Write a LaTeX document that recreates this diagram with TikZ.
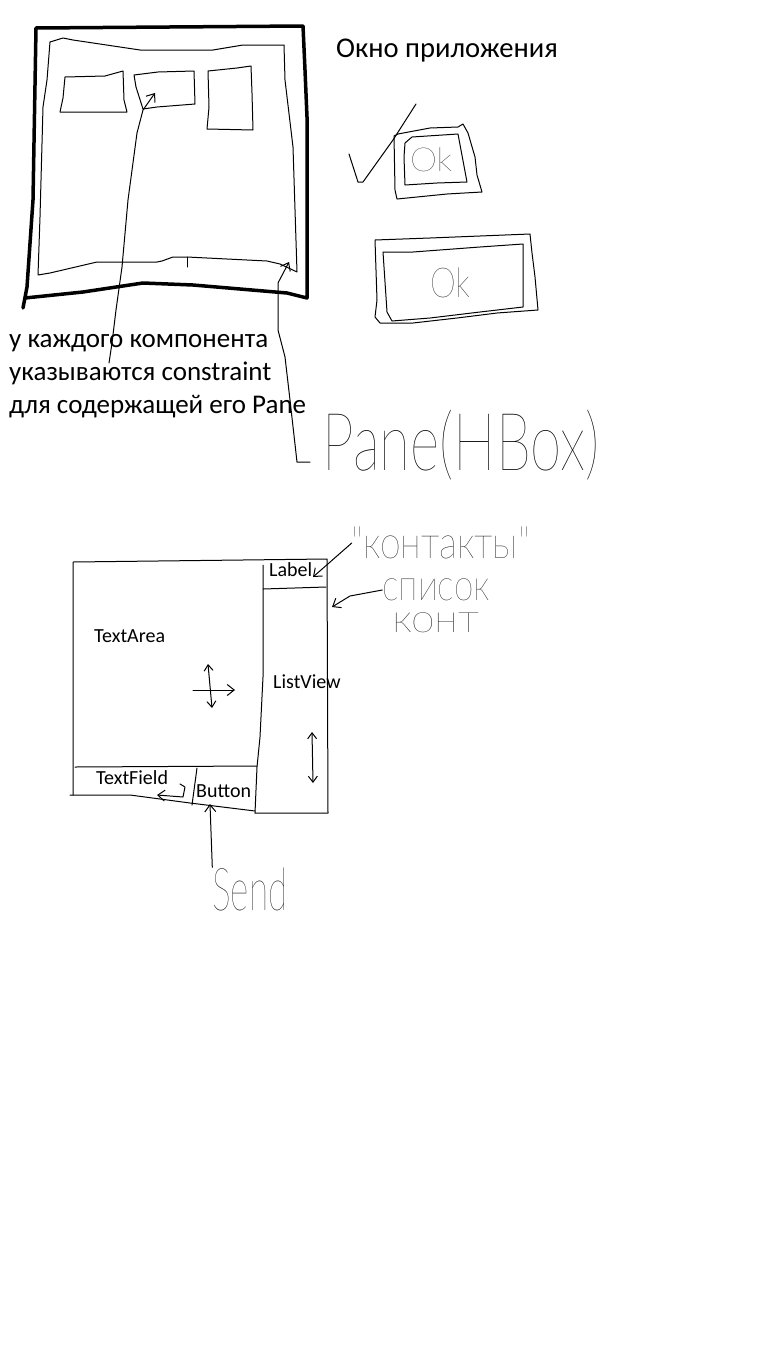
\documentclass[tikz,border=0pt]{standalone}
\usepackage{fontspec}
\setmainfont{Carlito}
\newfontfamily\hand{Lato Hairline}
\usetikzlibrary{arrows.meta,positioning}

\tikzset{
  sketch/.style={line width=1pt, line join=round, line cap=round},
  frame/.style={line width=3.5pt, line join=round, line cap=round},
  typed/.style={inner sep=0pt, anchor=base west, text height=20pt, text depth=7pt,
    font=\fontsize{27}{33}\selectfont},
  small/.style={inner sep=0pt, anchor=base west, font=\fontsize{20}{24}\selectfont},
  scrawl/.style={inner sep=0pt},
  pen/.style={sketch, -{Straight Barb[length=7pt,width=11pt]}},
  twopen/.style={sketch, {Straight Barb[length=6pt,width=9pt]}-{Straight Barb[length=6pt,width=9pt]}},
}

\begin{document}
\begin{tikzpicture}[x=1pt, y=-1pt]
  \useasboundingbox[fill=white] (0,0) rectangle (768,1368);

  % application window
  \draw[frame] (23,308) -- (27,287) -- (33,200) -- (36,28) -- (303,26) -- (305,70) -- (307,117)
    -- (307,298) -- (287,293) -- (193,285) -- (143,283) -- (83,292) -- (25,298);
  \draw[sketch] (50,42) -- (63,38) -- (73,40) -- (140,50) -- (213,50) -- (243,45) -- (284,45)
    -- (285,80) -- (293,147) -- (297,272) -- (280,264) -- (267,261) -- (187,257) -- (173,257)
    -- (162,261) -- (157,262) -- (97,262) -- (50,273) -- (38,275) -- (40,217) -- (43,107)
    -- (47,80) -- cycle;
  \draw[sketch] (187,257) -- (187,267);
  \draw[sketch] (65,77) -- (105,76) -- (123,71) -- (124,100) -- (127,112) -- (60,112) -- (63,98) -- cycle;
  \draw[sketch] (134,75) -- (158,72) -- (194,71) -- (195,104) -- (157,107) -- (143,109) -- (136,87) -- cycle;
  \draw[sketch] (208,71) -- (237,68) -- (251,66) -- (252,93) -- (253,130) -- (207,129) -- (209,107) -- cycle;

  \node (title) [typed, font=\fontsize{28.6}{33}\selectfont] at (336,57) {Окно приложения};

  % buttons
  \draw[sketch] (349,154) -- (358,182) -- (363,182) -- (393,140) -- (416,104);
  \draw[sketch] (394,136) -- (398,134) -- (430,128) -- (458,127) -- (463,124) -- (468,133)
    -- (475,157) -- (477,175) -- (482,192) -- (447,194) -- (397,199) -- (395,190) -- cycle;
  \draw[sketch] (405,143) -- (412,137) -- (458,134) -- (467,182) -- (437,183) -- (405,185)
    -- (404,157) -- cycle;
  \node (ok1) [scrawl] at (431,160) {\resizebox*{42pt}{24pt}{\hand Ok}};
  \draw[sketch] (375,240) -- (430,238) -- (530,234) -- (532,253) -- (535,277) -- (538,310)
    -- (497,313) -- (457,318) -- (413,323) -- (380,323) -- (375,317) -- (377,300) -- cycle;
  \draw[sketch] (383,252) -- (413,252) -- (480,247) -- (523,244) -- (523,307) -- (480,312)
    -- (430,318) -- (392,321) -- (387,312) -- cycle;
  \node (ok2) [scrawl] at (450,283) {\resizebox*{40pt}{30pt}{\hand Ok}};

  % note on constraints
  \node (l1) [typed] at (9,347) {у каждого компонента};
  \node (l2) [typed, below=6pt of l1.south west, anchor=north west] {указываются constraint};
  \node (l3) [typed, below=6pt of l2.south west, anchor=north west] {для содержащей его Pane};
  \coordinate (ctail) at (109,363);
  \coordinate (chead) at (155,93);
  \draw[pen] (ctail) -- (112,343) -- (116,310) -- (122,267) -- (128,200) -- (137,133)
    -- (143,110) -- (chead);

  \node (pane) [scrawl] at (461,445) {\resizebox*{277pt}{70pt}{\hand Pane(HBox)}};
  \coordinate (ptail) at (310,462);
  \coordinate (phead) at (289,262);
  \draw[pen] (ptail) -- (297,462) -- (290,400) -- (285,357) -- (278,330) -- (278,283) -- (phead);

  % chat layout
  \draw[sketch] (73,795) -- (73,562) -- (327,559) -- (328,813) -- (255,813);
  \draw[sketch] (70,795) -- (130,795) -- (190,803) -- (255,811);
  \draw[sketch] (263,565) -- (263,677) -- (260,737) -- (257,767) -- (255,813);
  \draw[sketch] (263,589) -- (326,587);
  \draw[sketch] (75,767) -- (257,766);
  \draw[sketch] (197,768) -- (192,805);

  \node (label) [small] at (269,576) {Label};
  \node (textarea) [small] at (94,642) {TextArea};
  \node (listview) [small] at (273,688) {ListView};
  \node (textfield) [small] at (96,784) {TextField};
  \node (button) [small] at (196,797) {Button};

  \draw[twopen] (208,664) -- (212,708);
  \draw[pen] (193,690) -- (235,690);
  \draw[twopen] (312,732) -- (313,783);
  \draw[pen] (180,784) -- (185,787) -- (183,797) -- (157,795);

  \node (kontakty) [scrawl] at (441,543) {\resizebox*{178pt}{32pt}{\hand "контакты"}};
  \node (spisok) [scrawl, align=center, anchor=north] at (436,579)
    {\resizebox*{107pt}{22pt}{\hand список}\\[11pt]\resizebox*{87pt}{20pt}{\hand конт}};
  \node (send) [scrawl] at (250,889) {\resizebox*{75pt}{43pt}{\hand Send}};

  \coordinate (labeltip) at (313,577);
  \coordinate (listtip) at (332,607);
  \coordinate (sendtip) at (210,804);
  \draw[pen] (kontakty.west) -- (labeltip);
  \draw[pen] ([yshift=-11pt]spisok.north west) -- (350,596) -- (listtip);
  \draw[pen] (send.north west) -- (sendtip);
\end{tikzpicture}
\end{document}
